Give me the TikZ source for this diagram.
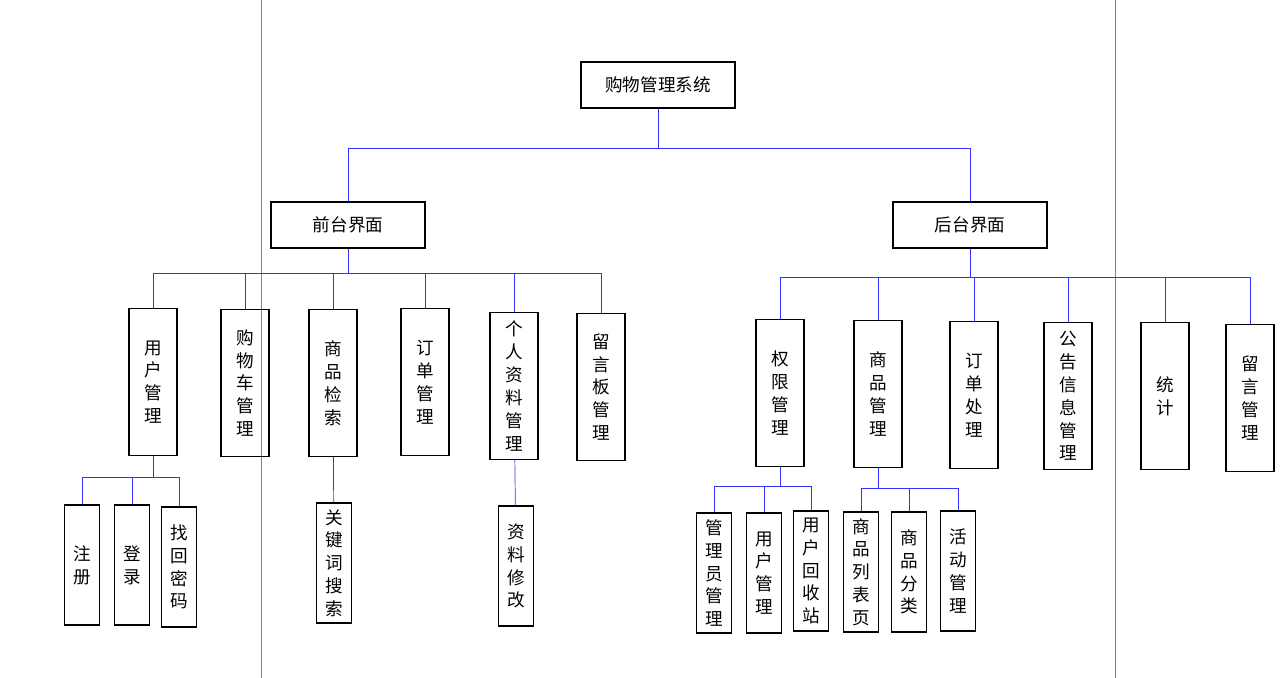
\documentclass[tikz,border=0pt]{standalone}
\usepackage{fontspec}
\setmainfont{Noto Sans CJK SC}
\begin{document}
\begin{tikzpicture}[x=0.02cm,y=-0.02cm,
    box/.style={draw,thick,minimum width=154*0.02cm,minimum height=46*0.02cm,font=\fontsize{10}{12}\selectfont},
    vbox/.style={draw,thick,align=center,inner sep=0pt,minimum width=48*0.02cm,minimum height=147*0.02cm,font=\fontsize{10}{13}\selectfont},
    sbox/.style={vbox,minimum width=35*0.02cm,minimum height=120*0.02cm},
    link/.style={blue!80!white}]

        % Rahmen
        \useasboundingbox (0,0) rectangle (1280,678);
        \draw[gray] (261,0) -- (261,678);
        \draw[gray] (1115,0) -- (1115,678);

        % Knoten
        \node[box] (root) at (658,85) {购物管理系统};
        \node[box] (front) at (348,225) {前台界面};
        \node[box] (back) at (970,225) {后台界面};

        \node[vbox] (user) at (153,382) {用\\户\\管\\理};
        \node[vbox] (cart) at (245,383) {购\\物\\车\\管\\理};
        \node[vbox] (search) at (333,383) {商\\品\\检\\索};
        \node[vbox] (order) at (425,382) {订\\单\\管\\理};
        \node[vbox] (profile) at (514,386) {个\\人\\资\\料\\管\\理};
        \node[vbox] (board) at (601,387) {留\\言\\板\\管\\理};

        \node[vbox] (perm) at (780,393) {权\\限\\管\\理};
        \node[vbox] (goods) at (878,394) {商\\品\\管\\理};
        \node[vbox] (deal) at (974,395) {订\\单\\处\\理};
        \node[vbox] (notice) at (1068,396) {公\\告\\信\\息\\管\\理};
        \node[vbox] (stat) at (1165,396) {统\\计};
        \node[vbox] (msg) at (1250,398) {留\\言\\管\\理};

        \node[sbox] (reg) at (82,565) {注\\册};
        \node[sbox] (login) at (132,565) {登\\录};
        \node[sbox] (pwd) at (179,567) {找\\回\\密\\码};
        \node[sbox] (key) at (334,563) {关\\键\\词\\搜\\索};
        \node[sbox] (edit) at (516,566) {资\\料\\修\\改};
        \node[sbox] (admin) at (714,573) {管\\理\\员\\管\\理};
        \node[sbox] (uman) at (764,573) {用\\户\\管\\理};
        \node[sbox] (bin) at (811,571) {用\\户\\回\\收\\站};
        \node[sbox] (list) at (861,572) {商\\品\\列\\表\\页};
        \node[sbox] (cat) at (909,572) {商\\品\\分\\类};
        \node[sbox] (act) at (958,571) {活\\动\\管\\理};

        % Verbindungen
        \coordinate (b0) at (0,148);
        \coordinate (b1) at (0,273);
        \coordinate (b2) at (0,277);
        \coordinate (b3) at (0,477);
        \coordinate (b4) at (0,486);
        \coordinate (b5) at (0,488);

        \draw[link] (root.south) -- (root.south |- b0);
        \foreach \c in {front,back}
            \draw[link] (root.south |- b0) -| (\c.north);

        \draw[link] (front.south) -- (front.south |- b1);
        \foreach \c in {user,cart,search,order,profile,board}
            \draw[link] (front.south |- b1) -| (\c.north);

        \draw[link] (back.south) -- (back.south |- b2);
        \foreach \c in {perm,goods,deal,notice,stat,msg}
            \draw[link] (back.south |- b2) -| (\c.north);

        \draw[link] (user.south) -- (user.south |- b3);
        \foreach \c in {reg,login,pwd}
            \draw[link] (user.south |- b3) -| (\c.north);

        \draw[link] (perm.south) -- (perm.south |- b4);
        \foreach \c in {admin,uman,bin}
            \draw[link] (perm.south |- b4) -| (\c.north);

        \draw[link] (goods.south) -- (goods.south |- b5);
        \foreach \c in {list,cat,act}
            \draw[link] (goods.south |- b5) -| (\c.north);

        \draw[link] (search) -- (key);
        \draw[link] (profile) -- (edit);

\end{tikzpicture}
\end{document}
